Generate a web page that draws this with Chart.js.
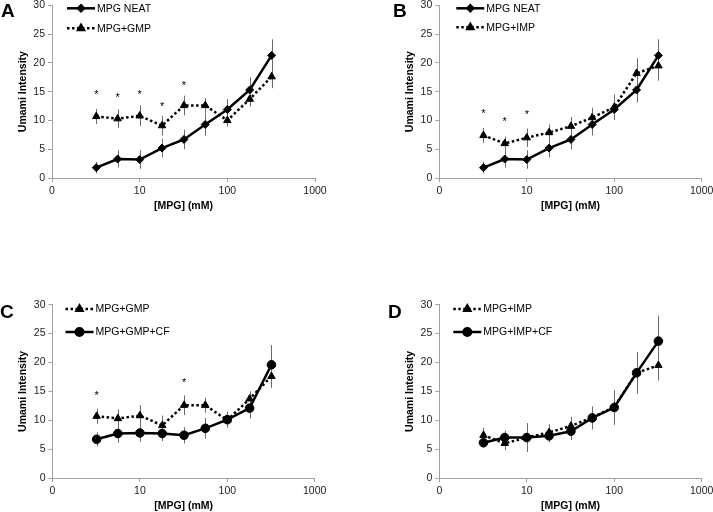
<!DOCTYPE html>
<html>
<head>
<meta charset="utf-8">
<script src="https://cdn.jsdelivr.net/npm/chart.js@4.4.0/dist/chart.umd.min.js"></script>
<style>
  html, body { margin:0; padding:0; background:#fff; }
  #wrap { position:relative; width:713px; height:512px; background:#fff; }
  canvas { position:absolute; }
</style>
</head>
<body>
<div id="wrap">
  <canvas id="cA" width="356" height="256" style="left:0;top:0"></canvas>
  <canvas id="cB" width="357" height="256" style="left:356px;top:0"></canvas>
  <canvas id="cC" width="356" height="256" style="left:0;top:256px"></canvas>
  <canvas id="cD" width="357" height="256" style="left:356px;top:256px"></canvas>
</div>
<script>
// ---- data ----
const conc = [3.2, 5.6, 10, 18, 32, 56, 100, 180, 320];
const xTickVals = [1, 10, 100, 1000];
const xTickLabels = ['0', '10', '100', '1000'];
const yTickStep = 5;

const neat     = [1.8, 3.3, 3.2, 5.2, 6.7, 9.3, 11.9, 15.3, 21.3];
const neatErr  = [1.0, 1.5, 1.6, 1.6, 1.7, 1.9, 1.8, 2.2, 2.8];
const gmp      = [10.7, 10.3, 10.8, 9.1, 12.6, 12.6, 10.0, 13.7, 17.6];
const gmpErr   = [1.3, 1.6, 1.8, 1.7, 1.7, 1.3, 1.1, 1.3, 2.0];
const imp      = [7.4, 6.0, 7.0, 7.9, 9.0, 10.5, 12.3, 18.2, 19.5];
const impErr   = [1.3, 1.2, 1.6, 1.4, 1.6, 1.7, 2.2, 2.6, 2.6];
const gmpCf    = [6.7, 7.7, 7.8, 7.7, 7.4, 8.6, 10.1, 12.1, 19.6];
const gmpCfErr = [1.2, 1.6, 1.5, 1.3, 1.4, 1.8, 1.4, 1.8, 3.4];
const impCf    = [6.1, 7.0, 7.0, 7.3, 8.1, 10.4, 12.2, 18.2, 23.7];
const impCfErr = [0.8, 1.2, 2.5, 1.1, 1.5, 2.0, 3.0, 3.6, 4.4];

// significance marks (y level of '*', null = none)
const starsA = [14.9, 14.5, 15.0, 12.9, 16.5, null, null, null, null];
const starsB = [11.7, 10.2, 11.4, null, null, null, null, null, null];
const starsC = [14.7, null, null, null, 17.0, null, null, null, null];
const starsD = [null, null, null, null, null, null, null, null, null];

// ---- drawing ----
const FONT = "'Liberation Sans', Arial, Helvetica, sans-serif";
const AXIS = '#a0a0a0';

const decor = {
  id: 'decor',
  beforeDatasetsDraw(chart) {
    const ctx = chart.ctx, xs = chart.scales.x, ys = chart.scales.y;
    ctx.save();
    ctx.strokeStyle = '#6a6a6a';
    ctx.lineWidth = 1;
    chart.data.datasets.forEach(ds => {
      ds.data.forEach((p, i) => {
        const e = ds.err[i];
        const x = Math.round(xs.getPixelForValue(p.x)) + 0.5;
        ctx.beginPath();
        ctx.moveTo(x, ys.getPixelForValue(p.y + e));
        ctx.lineTo(x, ys.getPixelForValue(p.y - e));
        ctx.stroke();
      });
    });
    ctx.restore();
  },
  afterDraw(chart) {
    const o = chart.options.plugins.decor;
    const ctx = chart.ctx, xs = chart.scales.x, ys = chart.scales.y, ca = chart.chartArea;
    ctx.save();
    // stars
    ctx.fillStyle = '#000';
    ctx.font = '11px ' + FONT;
    ctx.textAlign = 'center';
    ctx.textBaseline = 'middle';
    o.stars.forEach((v, i) => {
      if (v === null) return;
      ctx.fillText('*', xs.getPixelForValue(conc[i]), ys.getPixelForValue(v) + 3);
    });
    // panel letter
    ctx.font = 'bold 19px ' + FONT;
    ctx.textAlign = 'left';
    ctx.fillText(o.letter, o.letterX, o.letterY);
    // legend
    chart.data.datasets.forEach((ds, k) => {
      const y = ca.top + o.legendY[k];
      const x0 = ca.left + o.legendX;
      const x1 = x0 + 28;
      ctx.strokeStyle = '#000';
      ctx.lineWidth = 2.5;
      ctx.setLineDash(ds.borderDash || []);
      ctx.beginPath();
      ctx.moveTo(x0, y); ctx.lineTo(x1, y);
      ctx.stroke();
      ctx.setLineDash([]);
      Chart.helpers.drawPoint(ctx, {pointStyle: ds.pointStyle, radius: ds.legendRadius, borderWidth: 1, rotation: 0}, (x0 + x1) / 2, y);
      ctx.fillStyle = '#000';
      ctx.font = '10.5px ' + FONT;
      ctx.textBaseline = 'middle';
      ctx.textAlign = 'left';
      ctx.fillText(ds.label, x1 + 2, y + 0.5);
    });
    ctx.restore();
  }
};

const STYLE = {
  neat:  {style: 'rectRot', radius: 4, legendRadius: 3, dashed: false},
  add:   {style: 'triangle', radius: 4.3, legendRadius: 3.4, dashed: true},
  cf:    {style: 'circle', radius: 4.3, legendRadius: 3.8, dashed: false}
};

function panel(id, opts) {
  const datasets = opts.series.map(s => {
    const st = STYLE[s.kind];
    return {
      label: s.label,
      data: conc.map((c, i) => ({x: c, y: s.values[i]})),
      err: s.err,
      borderColor: '#000',
      backgroundColor: '#000',
      pointBackgroundColor: '#000',
      pointBorderColor: '#000',
      borderWidth: 2.5,
      borderDash: st.dashed ? [2.5, 2.5] : [],
      pointStyle: st.style,
      pointRadius: st.radius,
      pointHoverRadius: st.radius,
      legendRadius: st.legendRadius,
      pointBorderWidth: 1,
      tension: 0,
      order: s.order
    };
  });
  new Chart(document.getElementById(id), {
    type: 'line',
    data: {datasets},
    options: {
      responsive: false,
      animation: false,
      devicePixelRatio: 1,
      events: [],
      layout: {padding: opts.padding},
      plugins: {
        legend: {display: false},
        tooltip: {enabled: false},
        decor: {stars: opts.stars, letter: opts.letter, letterX: opts.letterX, letterY: opts.letterY,
                legendX: opts.legendX, legendY: opts.legendY}
      },
      scales: {
        x: {
          type: 'logarithmic', min: 1, max: 1000,
          afterBuildTicks: s => { s.ticks = xTickVals.map(v => ({value: v})); },
          afterFit: s => { s.height = 34; s.paddingLeft = 0; s.paddingRight = 0; },
          ticks: {
            autoSkip: false, maxRotation: 0, minRotation: 0, padding: 3,
            color: '#222', font: {family: FONT, size: 10.5},
            callback: v => { const k = xTickVals.indexOf(v); return k >= 0 ? xTickLabels[k] : ''; }
          },
          grid: {drawOnChartArea: false, tickLength: 4, color: AXIS},
          border: {color: AXIS, width: 1},
          title: {display: true, text: '[MPG] (mM)', color: '#000', padding: 0,
                  font: {family: FONT, size: 10.5, weight: 'bold'}}
        },
        y: {
          type: 'linear', min: 0, max: 30,
          afterFit: s => { s.width = 52; s.paddingTop = 0; s.paddingBottom = 0; },
          ticks: {stepSize: yTickStep, padding: 3, color: '#222', font: {family: FONT, size: 10.5}},
          grid: {drawOnChartArea: false, tickLength: 4, color: AXIS},
          border: {color: AXIS, width: 1},
          title: {display: true, text: 'Umami Intensity', color: '#000', padding: {top: 16.7, bottom: 0},
                  font: {family: FONT, size: 10.5, weight: 'bold'}}
        }
      }
    },
    plugins: [decor]
  });
}

panel('cA', {
  letter: 'A', letterX: 1, letterY: 12,
  padding: {left: 0, right: 41, top: 4, bottom: 44},
  legendX: 15, legendY: [3, 23],
  stars: starsA,
  series: [
    {label: 'MPG NEAT', kind: 'neat', values: neat, err: neatErr, order: 1},
    {label: 'MPG+GMP', kind: 'add', values: gmp, err: gmpErr, order: 2}
  ]
});
panel('cB', {
  letter: 'B', letterX: 37, letterY: 12,
  padding: {left: 31.3, right: 11.3, top: 4, bottom: 44},
  legendX: 17, legendY: [3, 22],
  stars: starsB,
  series: [
    {label: 'MPG NEAT', kind: 'neat', values: neat, err: neatErr, order: 1},
    {label: 'MPG+IMP', kind: 'add', values: imp, err: impErr, order: 2}
  ]
});
panel('cC', {
  letter: 'C', letterX: 0, letterY: 57,
  padding: {left: 0.5, right: 41.3, top: 48.7, bottom: 0},
  legendX: 13, legendY: [4.3, 27.3],
  stars: starsC,
  series: [
    {label: 'MPG+GMP', kind: 'add', values: gmp, err: gmpErr, order: 2},
    {label: 'MPG+GMP+CF', kind: 'cf', values: gmpCf, err: gmpCfErr, order: 1}
  ]
});
panel('cD', {
  letter: 'D', letterX: 32, letterY: 57,
  padding: {left: 31.3, right: 11.3, top: 48.7, bottom: 0},
  legendX: 14, legendY: [4.3, 27.3],
  stars: starsD,
  series: [
    {label: 'MPG+IMP', kind: 'add', values: imp, err: impErr, order: 2},
    {label: 'MPG+IMP+CF', kind: 'cf', values: impCf, err: impCfErr, order: 1}
  ]
});
</script>
</body>
</html>
